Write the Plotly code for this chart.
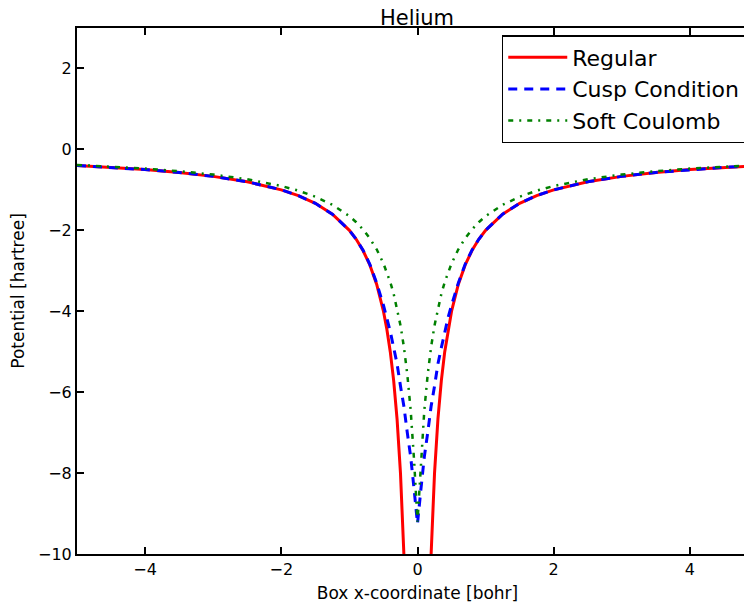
import plotly.graph_objects as go

x = [-5, -4.5, -4, -3.5, -3, -2.5, -2, -1.75, -1.5, -1.25, -1, -0.9, -0.8, -0.7, -0.6,
     -0.5, -0.45, -0.4, -0.35, -0.3, -0.25, -0.2, -0.15, -0.1, -0.05, 0,
     0.05, 0.1, 0.15, 0.2, 0.25, 0.3, 0.35, 0.4, 0.45, 0.5,
     0.6, 0.7, 0.8, 0.9, 1, 1.25, 1.5, 1.75, 2, 2.5, 3, 3.5, 4, 4.5, 5]

regular = [-0.40, -0.444, -0.50, -0.571, -0.667, -0.80, -1.00, -1.143, -1.333, -1.60, -2.00, -2.222, -2.50, -2.857, -3.333,
           -4.00, -4.444, -5.00, -5.714, -6.667, -8.00, -10.0, -13.33, -20.0, -40.0, None,
           -40.0, -20.0, -13.33, -10.0, -8.00, -6.667, -5.714, -5.00, -4.444, -4.00,
           -3.333, -2.857, -2.50, -2.222, -2.00, -1.60, -1.333, -1.143, -1.00, -0.80, -0.667, -0.571, -0.50, -0.444, -0.40]

cusp = [-0.40, -0.444, -0.50, -0.571, -0.667, -0.80, -1.00, -1.143, -1.333, -1.60, -2.00, -2.222, -2.49, -2.84, -3.30,
        -3.85, -4.15, -4.50, -4.90, -5.30, -5.85, -6.35, -7.00, -7.60, -8.40, -9.25,
        -8.40, -7.60, -7.00, -6.35, -5.85, -5.30, -4.90, -4.50, -4.15, -3.85,
        -3.30, -2.84, -2.49, -2.222, -2.00, -1.60, -1.333, -1.143, -1.00, -0.80, -0.667, -0.571, -0.50, -0.444, -0.40]

soft = [-0.384, -0.425, -0.475, -0.539, -0.623, -0.738, -0.905, -1.02, -1.17, -1.37, -1.65, -1.80, -1.98, -2.20, -2.47,
        -2.82, -3.03, -3.28, -3.57, -3.92, -4.35, -4.88, -5.56, -6.45, -7.69, -9.2,
        -7.69, -6.45, -5.56, -4.88, -4.35, -3.92, -3.57, -3.28, -3.03, -2.82,
        -2.47, -2.20, -1.98, -1.80, -1.65, -1.37, -1.17, -1.02, -0.905, -0.738, -0.623, -0.539, -0.475, -0.425, -0.384]

series_names = ["Regular", "Cusp Condition", "Soft Coulomb"]
x_ticks = [-4, -2, 0, 2, 4]
x_tick_labels = ["−4", "−2", "0", "2", "4"]
y_ticks = [-10, -8, -6, -4, -2, 0, 2]
y_tick_labels = ["−10", "−8", "−6", "−4", "−2", "0", "2"]

FONT = "DejaVu Sans"

fig = go.Figure()
fig.add_trace(go.Scatter(x=x, y=regular, mode="lines", name=series_names[0],
                         line=dict(color="#ff0000", width=3), connectgaps=False))
fig.add_trace(go.Scatter(x=x, y=cusp, mode="lines", name=series_names[1],
                         line=dict(color="#0000ff", width=3, dash="9px,7px")))
fig.add_trace(go.Scatter(x=x, y=soft, mode="lines", name=series_names[2],
                         line=dict(color="#008000", width=2.5, dash="5px,6px,2px,6px")))

fig.update_layout(
    width=752, height=608,
    margin=dict(l=69, r=0, t=20, b=62),
    paper_bgcolor="white", plot_bgcolor="white",
    font=dict(family=FONT, color="black", size=16),
    title=dict(text="Helium", x=409/752, xanchor="center", y=1 - 2/608, yanchor="top",
               yref="container", xref="container", pad=dict(t=0, b=0),
               font=dict(size=21, family=FONT, color="black")),
    showlegend=True,
    legend=dict(x=(495 - 69) / 683, y=1 - 7 / 526, xanchor="left", yanchor="top",
                bgcolor="white", bordercolor="black", borderwidth=1.5,
                font=dict(size=22, family=FONT, color="black"), itemwidth=59,
                tracegroupgap=0),
)
fig.update_xaxes(range=[-5, 5], tickvals=x_ticks, ticktext=x_tick_labels,
                 ticks="inside", ticklen=7, tickwidth=1.5, tickcolor="black",
                 showline=True, linecolor="black", linewidth=2, mirror="ticks",
                 showgrid=False, zeroline=False,
                 title=dict(text="Box x-coordinate [bohr]", font=dict(size=17), standoff=9),
                 tickfont=dict(size=16))
fig.update_yaxes(range=[-10, 3], tickvals=y_ticks, ticktext=y_tick_labels,
                 ticks="inside", ticklen=7, tickwidth=1.5, tickcolor="black",
                 showline=True, linecolor="black", linewidth=2, mirror="ticks",
                 showgrid=False, zeroline=False,
                 title=dict(text="Potential [hartree]", font=dict(size=17), standoff=10),
                 tickfont=dict(size=16))

fig.write_html("out.html")
